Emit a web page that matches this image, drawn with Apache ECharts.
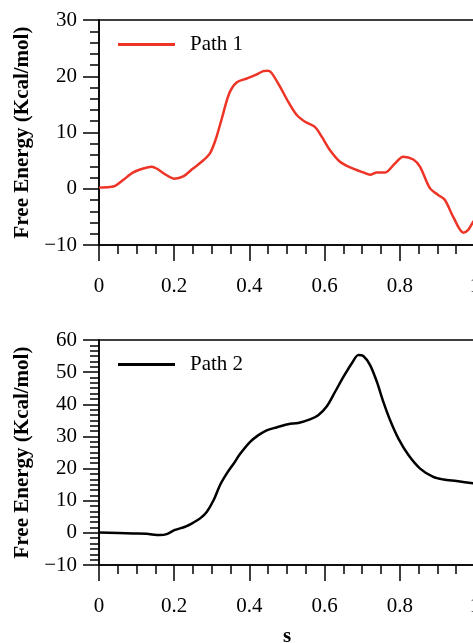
<!DOCTYPE html>
<html>
<head>
<meta charset="utf-8">
<script src="https://cdn.jsdelivr.net/npm/echarts@6/dist/echarts.min.js"></script>
<style>
html,body{margin:0;padding:0;background:#fff;}
#c{width:473px;height:643px;}
</style>
</head>
<body>
<div id="c"></div>
<script>
// Path 1 (reaction coordinate s, free energy kcal/mol)
var s1 = [0, 0.029, 0.043, 0.065, 0.091, 0.118, 0.140, 0.153, 0.180, 0.200, 0.224, 0.250, 0.273, 0.295, 0.310, 0.328, 0.346, 0.366, 0.393, 0.415, 0.437, 0.450, 0.459, 0.481, 0.503, 0.526, 0.548, 0.574, 0.592, 0.614, 0.641, 0.668, 0.703, 0.721, 0.739, 0.761, 0.787, 0.809, 0.836, 0.854, 0.880, 0.902, 0.920, 0.942, 0.969, 0.982, 0.995, 1.0];
var e1 = [0.2, 0.3, 0.5, 1.6, 2.9, 3.6, 3.9, 3.6, 2.4, 1.8, 2.2, 3.6, 4.8, 6.3, 8.7, 12.8, 16.9, 18.9, 19.6, 20.2, 20.9, 21.0, 20.6, 18.2, 15.5, 13.1, 11.9, 11.0, 9.3, 6.9, 4.8, 3.8, 2.9, 2.5, 2.9, 2.9, 4.5, 5.7, 5.2, 3.9, 0.1, -1.1, -2.0, -5.0, -7.8, -7.3, -5.9, -5.5];

// Path 2
var s2 = [0, 0.091, 0.126, 0.162, 0.180, 0.202, 0.229, 0.251, 0.269, 0.287, 0.305, 0.322, 0.340, 0.358, 0.375, 0.402, 0.424, 0.446, 0.472, 0.503, 0.530, 0.561, 0.583, 0.606, 0.628, 0.650, 0.672, 0.690, 0.703, 0.721, 0.739, 0.756, 0.774, 0.796, 0.823, 0.854, 0.889, 0.916, 0.951, 0.995, 1.0];
var e2 = [0.1, -0.2, -0.3, -0.7, -0.4, 0.9, 1.9, 3.2, 4.5, 6.6, 10.2, 14.9, 18.5, 21.5, 24.5, 28.3, 30.4, 31.9, 32.8, 33.8, 34.2, 35.3, 36.6, 39.4, 43.9, 48.5, 52.7, 55.3, 55.0, 52.2, 47.0, 40.8, 35.1, 29.4, 24.2, 20.0, 17.4, 16.6, 16.1, 15.4, 15.3];

var names = ['Path 1', 'Path 2'];
var colors = ['#ee3327', '#000000'];
var xTicks = {min: 0, max: 1, interval: 0.2};
var yTicks1 = {min: -10, max: 30, interval: 10};
var yTicks2 = {min: -10, max: 60, interval: 10};

function zip(a, b) { return a.map(function (v, i) { return [v, b[i]]; }); }

var FONT = 'Liberation Serif';
var txt = {color: '#000', fontFamily: FONT, fontSize: 21};

function xAxis(gi, showName) {
  return {
    type: 'value', gridIndex: gi, min: xTicks.min, max: xTicks.max, interval: xTicks.interval,
    name: showName ? 's' : '', nameLocation: 'middle', nameGap: 61,
    nameTextStyle: {color: '#000', fontFamily: FONT, fontSize: 21, fontWeight: 'bold'},
    axisLine: {onZero: false, lineStyle: {color: '#000', width: 1.5}},
    axisTick: {length: 16, lineStyle: {color: '#000', width: 1.5}},
    minorTick: {show: true, splitNumber: 4, length: 9, lineStyle: {color: '#000', width: 1.5}},
    axisLabel: Object.assign({margin: 31, showMaxLabel: true}, txt),
    splitLine: {show: false}, minorSplitLine: {show: false}
  };
}
function yAxis(gi, t, minorSplit) {
  return {
    type: 'value', gridIndex: gi, min: t.min, max: t.max, interval: t.interval,
    name: 'Free Energy (Kcal/mol)', nameLocation: 'middle', nameGap: 62, nameRotate: 90,
    nameTextStyle: {color: '#000', fontFamily: FONT, fontSize: 21, fontWeight: 'bold'},
    axisLine: {onZero: false, lineStyle: {color: '#000', width: 1.5}},
    axisTick: {length: 16, lineStyle: {color: '#000', width: 1.5}},
    minorTick: {show: true, splitNumber: minorSplit, length: 9, lineStyle: {color: '#000', width: 1.5}},
    axisLabel: Object.assign({margin: 22, formatter: function (v) { return String(v).replace('-', '\u2212'); }}, txt),
    splitLine: {show: false}, minorSplitLine: {show: false}
  };
}
function legend(top, idx) {
  return {
    data: [names[idx]], left: 113, top: top, orient: 'horizontal',
    icon: 'rect', itemWidth: 57, itemHeight: 3,
    textStyle: {color: '#000', fontFamily: FONT, fontSize: 21, padding: [0, 0, 0, 10]}
  };
}

var chart = echarts.init(document.getElementById('c'), null, {renderer: 'canvas'});
chart.setOption({
  animation: false,
  backgroundColor: '#fff',
  grid: [
    {left: 99, right: -2, top: 20, height: 225, show: true, borderColor: '#000', borderWidth: 1.5, containLabel: false, outerBoundsMode: 'none'},
    {left: 99, right: -2, top: 340, height: 225, show: true, borderColor: '#000', borderWidth: 1.5, containLabel: false, outerBoundsMode: 'none'}
  ],
  legend: [legend(29, 0), legend(349, 1)],
  xAxis: [xAxis(0, false), xAxis(1, true)],
  yAxis: [yAxis(0, yTicks1, 5), yAxis(1, yTicks2, 6)],
  series: [
    {name: names[0], type: 'line', xAxisIndex: 0, yAxisIndex: 0, data: zip(s1, e1), smooth: 0.3,
     showSymbol: false, symbol: 'none', lineStyle: {color: colors[0], width: 2.5}, itemStyle: {color: colors[0]}},
    {name: names[1], type: 'line', xAxisIndex: 1, yAxisIndex: 1, data: zip(s2, e2), smooth: 0.3,
     showSymbol: false, symbol: 'none', lineStyle: {color: colors[1], width: 2.5}, itemStyle: {color: colors[1]}}
  ]
});
</script>
</body>
</html>
